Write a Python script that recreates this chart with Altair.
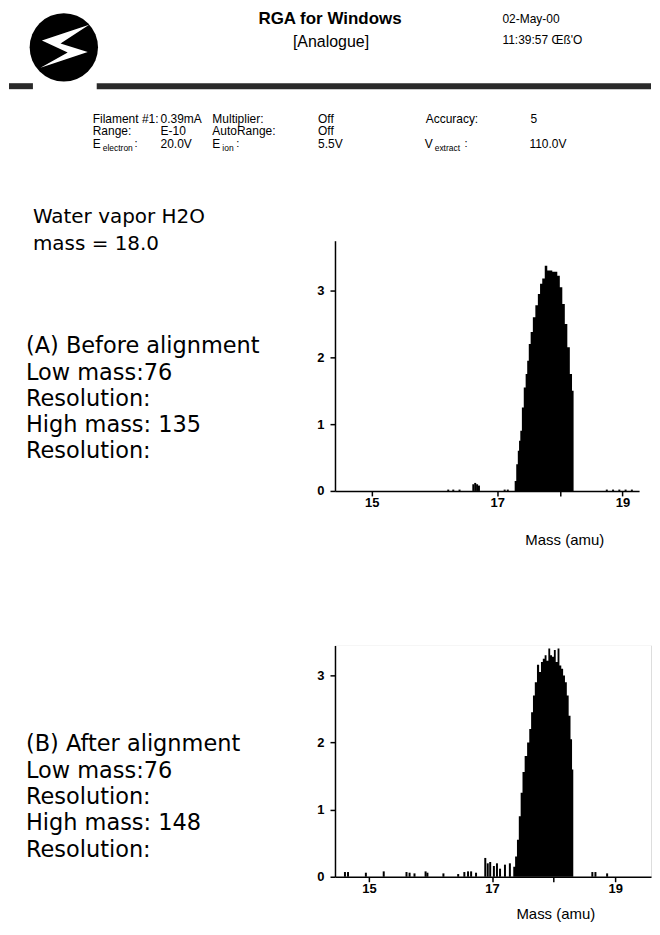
import altair as alt
import pandas as pd

# ---------------- data ----------------
# (A) before alignment: H2O peak profile
mass_a = [17.27, 17.29, 17.32, 17.34, 17.36, 17.38, 17.41, 17.44, 17.47, 17.49,
          17.52, 17.55, 17.59, 17.63, 17.67, 17.70, 17.74, 17.78, 17.82, 17.86,
          17.90, 17.94, 17.98, 18.02, 18.06, 18.10, 18.14, 18.18, 18.21, 18.23]
int_a = [0.0, 0.15, 0.40, 0.60, 0.75, 0.90, 1.25, 1.55, 1.75, 1.95,
         2.20, 2.38, 2.60, 2.78, 2.95, 3.10, 3.18, 3.37, 3.30, 3.30,
         3.28, 3.28, 3.22, 3.05, 2.80, 2.50, 2.15, 1.75, 1.50, 0.0]
noise_mass_a = [16.22, 16.30, 16.40, 16.62, 16.65, 16.68, 16.71, 17.12, 17.17,
                18.75, 18.85, 18.95, 19.05, 19.15]
noise_int_a = [0.02, 0.02, 0.02, 0.10, 0.12, 0.10, 0.08, 0.02, 0.02,
               0.02, 0.02, 0.02, 0.02, 0.02]

# (B) after alignment: H2O peak profile
mass_b = [17.33, 17.36, 17.39, 17.42, 17.45, 17.48, 17.51, 17.55, 17.59, 17.62,
          17.65, 17.68, 17.71, 17.75, 17.78, 17.81, 17.84, 17.87, 17.90, 17.93,
          17.96, 17.99, 18.02, 18.05, 18.08, 18.11, 18.14, 18.17, 18.20, 18.23,
          18.26, 18.29, 18.31, 18.33]
int_b = [0.0, 0.15, 0.30, 0.55, 0.90, 1.25, 1.56, 1.80, 2.00, 2.20,
         2.45, 2.70, 2.90, 3.16, 3.05, 3.20, 3.25, 3.30, 3.22, 3.40,
         3.30, 3.28, 3.38, 3.20, 3.40, 3.15, 3.10, 3.00, 2.90, 2.70,
         2.40, 2.05, 1.60, 0.0]
noise_mass_b = [14.61, 14.66, 14.95, 15.24, 15.61, 15.66, 15.74, 15.92, 15.95,
                16.21, 16.45, 16.55, 16.61, 16.66, 16.74, 16.89, 16.93, 16.97,
                17.03, 17.08, 17.13, 17.21, 17.29, 18.63, 18.68, 18.87]
noise_int_b = [0.07, 0.07, 0.06, 0.08, 0.07, 0.06, 0.05, 0.08, 0.06,
               0.05, 0.04, 0.07, 0.08, 0.08, 0.06, 0.28, 0.20, 0.22,
               0.16, 0.20, 0.12, 0.18, 0.20, 0.07, 0.07, 0.05]

x_tick_values = [15, 17, 18, 19]
y_tick_values = [0, 1, 2, 3]

header_title = "RGA for Windows"
header_sub = "[Analogue]"
header_date = "02-May-00"
header_time = "11:39:57 Œß'O"

param_row1 = ["Filament #1:", "0.39mA", "Multiplier:", "Off", "Accuracy:", "5"]
param_row2 = ["Range:", "E-10", "AutoRange:", "Off"]
param_row3_vals = ["20.0V", "5.5V", "110.0V"]

gas_lines = ["Water vapor H2O", "mass = 18.0"]
a_lines = ["(A) Before alignment", "Low mass:76", "Resolution:", "High mass: 135", "Resolution:"]
b_lines = ["(B) After alignment", "Low mass:76", "Resolution:", "High mass: 148", "Resolution:"]

# ---------------- styling / layout ----------------
SANS = "Liberation Sans"
LEFT = "DejaVu Sans"
OX = 335          # page x of plot origin
OYA = 237         # page y of plot A top
OYB = 643         # page y of plot B top
WA, HA = 305, 251
WB, HB = 317, 232
DUMMY = pd.DataFrame({"d": [0]})
BOLT = "M0.85,-0.75 L-0.8,-0.2 L0.1,0.22 L-0.85,0.75 L0.8,0.2 L-0.15,-0.1 Z"


def txt(s, x, y, oy, size=12, font=SANS, weight="normal", align="left"):
    return alt.Chart(DUMMY).mark_text(
        text=s, font=font, fontSize=size, fontWeight=weight, align=align,
        baseline="middle", color="black"
    ).encode(x=alt.value(x - OX), y=alt.value(y - oy))


def rect(x1, y1, x2, y2, oy, color):
    return alt.Chart(DUMMY).mark_rect(color=color, strokeWidth=0).encode(
        x=alt.value(x1 - OX), x2=alt.value(x2 - OX),
        y=alt.value(y1 - oy), y2=alt.value(y2 - oy))


def axis_x(title_x, title_y):
    return alt.Axis(values=x_tick_values, title="Mass (amu)",
                    labelExpr="datum.value == 18 ? '' : datum.label",
                    grid=False, domainColor="black", domainWidth=1.5,
                    tickColor="black", tickSize=5, tickWidth=1.5,
                    labelFont=SANS, labelFontSize=13, labelFontWeight="bold",
                    labelColor="black", labelPadding=1,
                    titleFont=SANS, titleFontSize=15, titleFontWeight="normal",
                    titleColor="black", titleX=title_x, titleY=title_y,
                    titleAlign="center", titleBaseline="middle",
                    zindex=1)


def axis_y():
    return alt.Axis(values=y_tick_values, title=None, grid=False,
                    domainColor="black", domainWidth=1.5,
                    tickColor="black", tickSize=5, tickWidth=1.5,
                    labelFont=SANS, labelFontSize=13, labelFontWeight="bold",
                    labelColor="black", labelPadding=6, zindex=1)


def panel(masses, ints, nm, ni, xdom, ydom, tx, ty):
    xenc = alt.X("mass:Q", scale=alt.Scale(domain=xdom, nice=False, zero=False),
                 axis=axis_x(tx, ty))
    yenc = alt.Y("intensity:Q", scale=alt.Scale(domain=ydom, nice=False),
                 axis=axis_y())
    peak = alt.Chart(pd.DataFrame({"mass": masses, "intensity": ints})).mark_area(
        interpolate="step", color="black").encode(x=xenc, y=yenc)
    noise = alt.Chart(pd.DataFrame({"mass": nm, "intensity": ni})).mark_bar(
        size=2, color="black").encode(x=xenc, y=yenc)
    return peak, noise


# ---------- panel A (with header) ----------
peakA, noiseA = panel(mass_a, int_a, noise_mass_a, noise_int_a,
                      [14.492, 19.185], [0, 3.746], 230, 49)

layersA = [rect(8, 8, 652, 488, OYA, "white")]
# stripe
layersA.append(rect(8, 79, 32, 85, OYA, "#2a2a2a"))
layersA.append(rect(96, 79, 652, 85, OYA, "#2a2a2a"))
# logo
layersA.append(alt.Chart(DUMMY).mark_point(shape="circle", filled=True, size=4700,
                                           color="black", opacity=1).encode(
    x=alt.value(63 - OX), y=alt.value(43 - OYA)))
layersA.append(alt.Chart(DUMMY).mark_point(shape=BOLT, filled=True, size=3300,
                                           color="white", opacity=1).encode(
    x=alt.value(64 - OX), y=alt.value(42 - OYA)))
# header text
layersA.append(txt(header_title, 330, 15, OYA, 17, SANS, "bold", "center"))
layersA.append(txt(header_sub, 331, 38, OYA, 16, SANS, "normal", "center"))
layersA.append(txt(header_date, 503, 15, OYA, 12))
layersA.append(txt(header_time, 503, 36, OYA, 12))
# parameter block
ROWS = [114.5, 127, 139.5]
cols1 = [92, 160, 212, 318, 426, 531]
for s, cx in zip(param_row1, cols1):
    layersA.append(txt(s, cx, ROWS[0], OYA, 12))
for s, cx in zip(param_row2, cols1[:4]):
    layersA.append(txt(s, cx, ROWS[1], OYA, 12))
for base, sub, cx, colon_x in [("E", "electron", 92, 134), ("E", "ion", 212, 236),
                               ("V", "extract", 425, 465)]:
    layersA.append(txt(base, cx, ROWS[2], OYA, 12))
    layersA.append(txt(sub, cx + 10, ROWS[2] + 4.5, OYA, 8.5))
    layersA.append(txt(":", colon_x, ROWS[2], OYA, 11))
for s, cx in zip(param_row3_vals, [160, 318, 530]):
    layersA.append(txt(s, cx, ROWS[2], OYA, 12))
# left descriptive text
for i, s in enumerate(gas_lines):
    layersA.append(txt(s, 32, 213 + 27 * i, OYA, 20, LEFT))
for i, s in enumerate(a_lines):
    layersA.append(txt(s, 25, 343 + 26.3 * i, OYA, 22.5, LEFT))
layersA += [peakA, noiseA]

chartA = alt.layer(*layersA).properties(width=WA, height=HA)

# ---------- panel B ----------
peakB, noiseB = panel(mass_b, int_b, noise_mass_b, noise_int_b,
                      [14.529, 19.502], [0, 3.447], 221, 37)
layersB = [rect(8, 643, 652, 927, OYB, "white")]
for i, s in enumerate(b_lines):
    layersB.append(txt(s, 25, 742 + 26.5 * i, OYB, 22.5, LEFT))
layersB += [peakB, noiseB]
chartB = alt.layer(*layersB).properties(width=WB, height=HB)

chart = alt.vconcat(chartA, chartB, spacing=OYB - OYA - HA, bounds="flush",
                    padding=0).configure_view(stroke=None).configure(
    background="white")

chart.save("out.html", embed_options={"renderer": "svg", "actions": False})
